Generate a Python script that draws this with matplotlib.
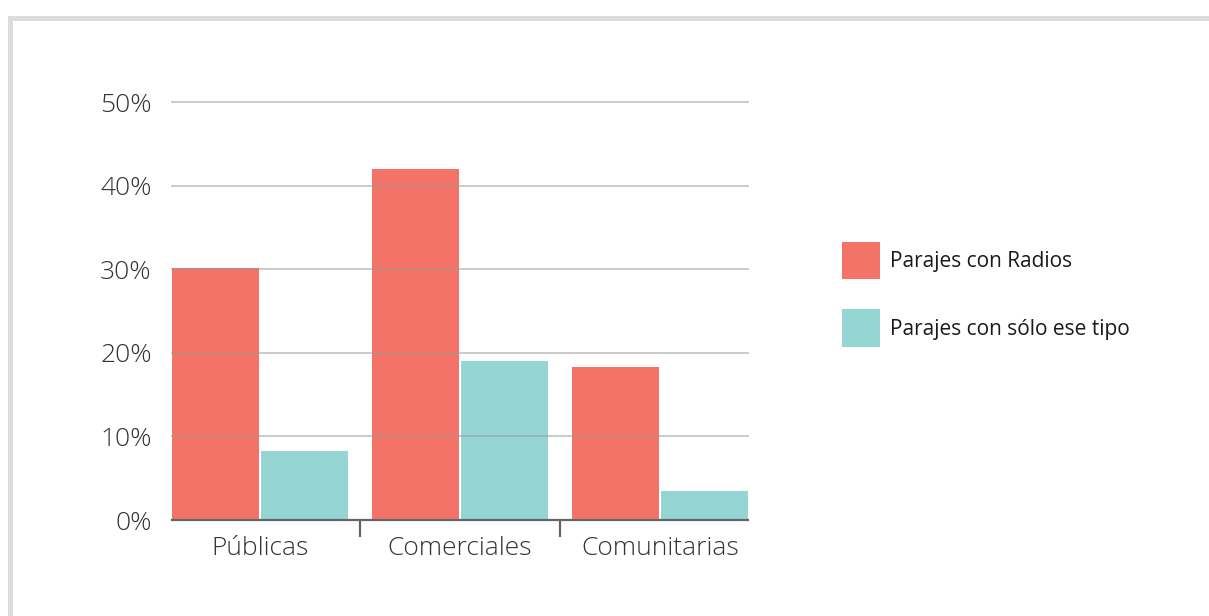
import matplotlib
matplotlib.use("Agg")
import matplotlib.pyplot as plt
from matplotlib.patches import Rectangle
import numpy as np

categories = ["Públicas", "Comerciales", "Comunitarias"]
series_names = ["Parajes con Radios", "Parajes con sólo ese tipo"]
radios = [30.2, 42.0, 18.3]
solo = [8.3, 19.0, 3.5]
yticks = [0, 10, 20, 30, 40, 50]
ytick_labels = ["0%", "10%", "20%", "30%", "40%", "50%"]

RED = "#F37368"
TEAL = "#95D6D4"

W, H = 1209, 616
fig = plt.figure(figsize=(W / 100, H / 100), dpi=100)
fig.patch.set_facecolor("white")

# frame decoration (partial gray border)
fig.patches.append(Rectangle((9.5 / W, -0.2), 1.5, 1.2 - 17.5 / H,
                             transform=fig.transFigure, fill=False,
                             edgecolor="#dcdcdc", linewidth=3.6))

ax = fig.add_axes([172 / W, 96 / H, 576 / W, 418 / H])
x = np.arange(len(categories))
bw = 0.435
off = 0.2225
b1 = ax.bar(x - off, radios, width=bw, color=RED, label=series_names[0], zorder=1)
b2 = ax.bar(x + off, solo, width=bw, color=TEAL, label=series_names[1], zorder=1)

ax.set_xlim(-0.44, 2.44)
ax.set_ylim(0, 50)
ax.set_yticks(yticks)
ax.set_yticklabels(ytick_labels)
ax.set_xticks(x)
ax.set_xticklabels(categories)
ax.set_xticks([0.5, 1.5], minor=True)

for s in ["top", "right", "left"]:
    ax.spines[s].set_visible(False)
ax.spines["bottom"].set_color("#666666")
ax.spines["bottom"].set_linewidth(1.6)
ax.spines["bottom"].set_zorder(3)

ax.tick_params(axis="y", length=0, pad=14.5, labelsize=19, labelcolor="#333333")
ax.tick_params(axis="x", which="major", length=0, pad=11.5, labelsize=19, labelcolor="#333333")
ax.tick_params(axis="x", which="minor", length=12, width=1.6, color="#666666", direction="out")

for lab in ax.get_xticklabels() + ax.get_yticklabels():
    lab.set_fontfamily("Open Sans")
    lab.set_fontweight("light")

ax.yaxis.grid(True, color="#999999", alpha=0.55, linewidth=1.3, zorder=2)
ax.set_axisbelow(False)
for gl in ax.get_ygridlines():
    gl.set_clip_on(False)
    gl.set_zorder(2)

leg = ax.legend(handles=[b1, b2], loc="upper left",
                bbox_to_anchor=(842 / W, 1 - 242 / H), bbox_transform=fig.transFigure,
                frameon=False, prop={"family": "Open Sans", "size": 15},
                handlelength=1.82, handleheight=2.39, handletextpad=0.5,
                labelspacing=1.44, borderpad=0, borderaxespad=0)
for t in leg.get_texts():
    t.set_color("#1a1a1a")

fig.savefig("out.png", dpi=100, facecolor="white")
